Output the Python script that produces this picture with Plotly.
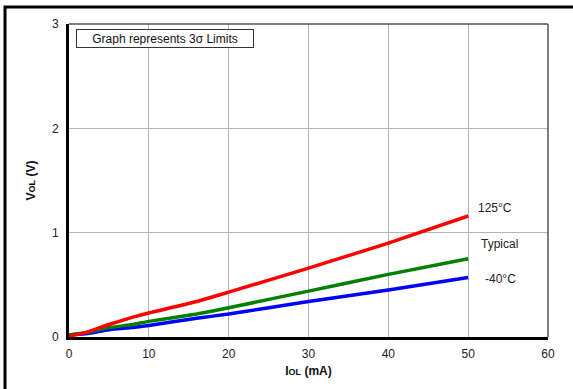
import plotly.graph_objects as go

iol_ma = [0, 2, 5, 8, 10, 16, 20, 30, 40, 50]
vol_125c = [0.01, 0.04, 0.12, 0.19, 0.23, 0.34, 0.43, 0.66, 0.90, 1.16]
vol_typical = [0.02, 0.04, 0.09, 0.12, 0.15, 0.22, 0.28, 0.44, 0.60, 0.75]
vol_m40c = [0.02, 0.03, 0.07, 0.09, 0.11, 0.18, 0.22, 0.34, 0.45, 0.57]

series_names = ["-40°C", "Typical", "125°C"]
series_colors = ["#0000ff", "#008000", "#ff0000"]
x_ticks = [0, 10, 20, 30, 40, 50, 60]
y_ticks = [0, 1, 2, 3]

FONT = "Liberation Sans, Arial, sans-serif"

fig = go.Figure()
for name, vals, col in zip(series_names, [vol_m40c, vol_typical, vol_125c], series_colors):
    fig.add_trace(go.Scatter(x=iol_ma, y=vals, mode="lines", name=name,
                             line=dict(color=col, width=3.5, shape="spline", smoothing=0.4)))

# curve labels
label_pos = [(51.8, 0.56), (51.4, 0.89), (51.0, 1.24)]
for name, (lx, ly) in zip(series_names, label_pos):
    fig.add_annotation(x=lx, y=ly, text=name, showarrow=False, xanchor="left", yanchor="middle",
                       font=dict(size=12, color="#222", family=FONT))

fig.add_annotation(xref="paper", yref="paper", x=0.0146, y=0.984, xanchor="left", yanchor="top",
                   text="Graph represents 3σ Limits", showarrow=False,
                   font=dict(size=12, color="#111", family=FONT),
                   bordercolor="#333", borderwidth=1, borderpad=2, width=172, height=13,
                   bgcolor="white")

# top/right thin frame
fig.add_shape(type="line", xref="paper", yref="paper", x0=0, x1=1, y0=1, y1=1,
              line=dict(color="#555", width=1.5))
fig.add_shape(type="line", xref="paper", yref="paper", x0=1, x1=1, y0=0, y1=1,
              line=dict(color="#555", width=1.5))
# outer frame
fig.add_shape(type="rect", xref="paper", yref="paper", x0=-0.1336, x1=1.2, y0=-0.3, y1=1.054,
              line=dict(color="black", width=3))

fig.update_layout(
    width=573, height=389,
    margin=dict(l=69, r=25, t=24, b=50),
    plot_bgcolor="white", paper_bgcolor="white",
    showlegend=False,
    font=dict(family=FONT, size=12, color="#222"),
)
fig.update_xaxes(range=[0, 60], tickvals=x_ticks, showgrid=True, gridcolor="#b4b4b4", gridwidth=1,
                 showline=True, linecolor="black", linewidth=3, zeroline=False, ticks="",
                 ticklabelstandoff=4,
                 tickfont=dict(size=12, family=FONT, color="#222"),
                 title=dict(text="<b>I<span style='font-size:9px'>OL</span> (mA)</b>",
                            font=dict(size=12, family=FONT, color="#111"), standoff=7))
fig.update_yaxes(range=[0, 3], tickvals=y_ticks, showgrid=True, gridcolor="#b4b4b4", gridwidth=1,
                 showline=True, linecolor="black", linewidth=3, zeroline=False, ticks="",
                 ticklabelstandoff=5,
                 tickfont=dict(size=12, family=FONT, color="#222"),
                 title=dict(text="<b>V<span style='font-size:9px'>OL</span> (V)</b>",
                            font=dict(size=12, family=FONT, color="#111"), standoff=14))

fig.write_html("out.html", config={"displayModeBar": False},
               post_script="document.body.style.margin='0';")
